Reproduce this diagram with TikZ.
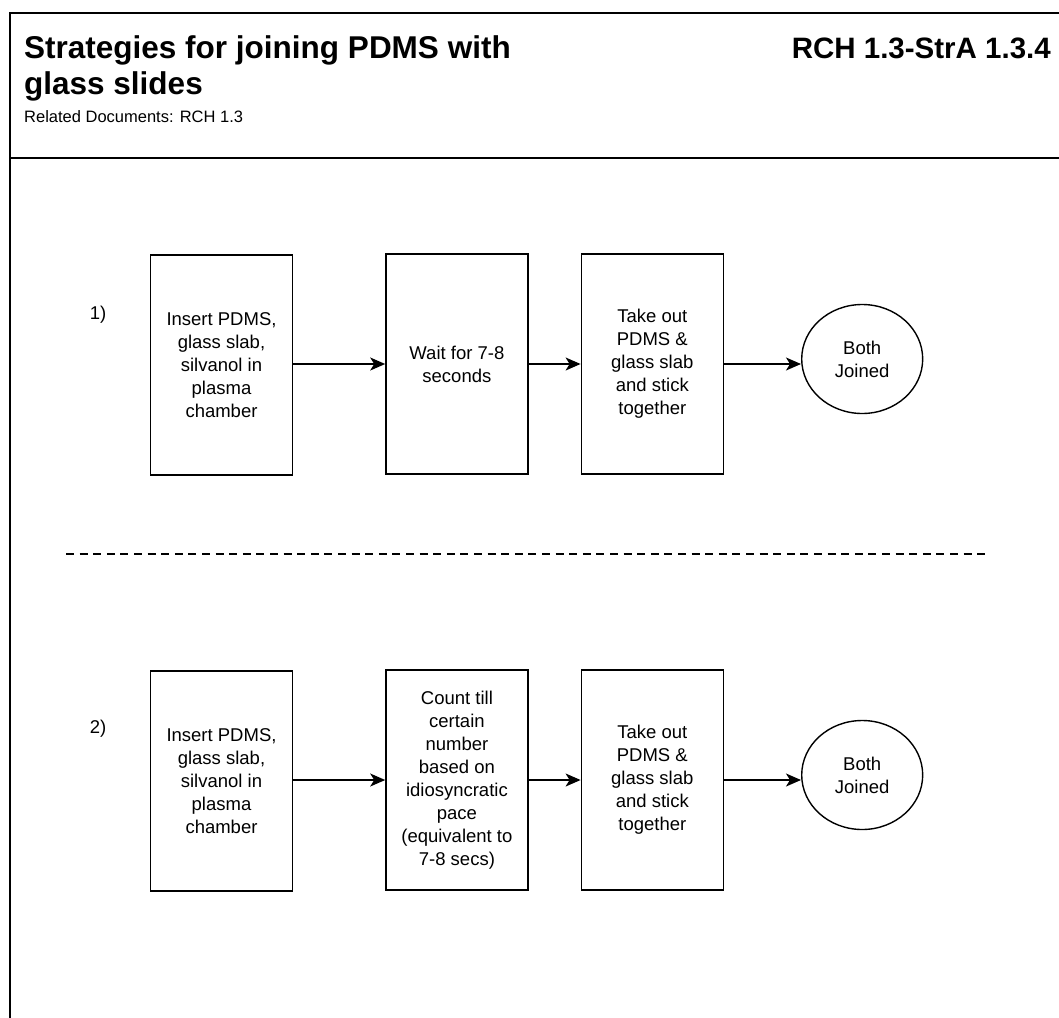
\documentclass[tikz,border=0pt]{standalone}
\usepackage{fontspec}
\setmainfont{Liberation Sans}
\usetikzlibrary{arrows.meta,positioning,shapes.geometric}
\tikzset{
  procbox/.style={rectangle, draw=black, line width=1.4pt, fill=white,
                  align=center, minimum width=142pt, minimum height=220pt,
                  inner sep=2pt, font=\fontsize{18.5}{23}\selectfont},
  joined/.style={ellipse, draw=black, line width=1.4pt, fill=white,
                 align=center, minimum width=121pt, minimum height=109pt,
                 inner sep=0pt, font=\fontsize{18.5}{23}\selectfont},
  arr/.style={-{Stealth[length=15pt,width=13pt,inset=4pt]}, line width=1.4pt},
  rowlbl/.style={font=\fontsize{18.5}{23}\selectfont, anchor=base},
  hdr/.style={anchor=base west, inner sep=0pt},
}
\begin{document}
\begin{tikzpicture}[x=1pt, y=-1pt]
  \clip (0,0) rectangle (1059,1017);
  \fill[white] (0,0) rectangle (1059,1017);
  % sheet frame and header
  \draw[line width=1.4pt] (10,1040) -- (10,13) -- (1080,13);
  \draw[line width=1.4pt] (10,158) -- (1080,158);
  \node[hdr, font=\bfseries\fontsize{31.5}{36}\selectfont] (title) at (24,58)
        {Strategies for joining PDMS with};
  \node[hdr, font=\bfseries\fontsize{31.5}{36}\selectfont] (title2) at (24,94)
        {glass slides};
  \node[hdr, font=\fontsize{16.5}{20}\selectfont] (related) at (24,122)
        {Related Documents: RCH 1.3};
  \node[anchor=base east, inner sep=0pt,
        font=\bfseries\fontsize{29.5}{36}\selectfont] (docid) at (1051,58)
        {RCH 1.3-StrA 1.3.4};
  % strategy 1
  \node[rowlbl] (lbla) at (98,319) {1)};
  \node[procbox] (inserta) at (221.5,365) {Insert PDMS,\\glass slab,\\silvanol in\\plasma\\chamber};
  \node[procbox, right=92pt of inserta, yshift=1pt] (waita) {Wait for 7-8\\seconds};
  \node[procbox, right=52pt of waita] (takea) {Take out\\PDMS \&\\glass slab\\and stick\\together};
  \node[joined, right=77pt of takea, yshift=5pt] (donea) {Both\\Joined};
  \draw[arr] (inserta.east |- takea) -- (waita.west |- takea);
  \draw[arr] (waita) -- (takea);
  \draw[arr] (takea) -- (donea.west |- takea);
  % divider
  \draw[line width=1.4pt, dash pattern=on 8pt off 5.6pt] (66,554) -- (986,554);
  % strategy 2
  \node[rowlbl] (lblb) at (98,733) {2)};
  \node[procbox] (insertb) at (221.5,781) {Insert PDMS,\\glass slab,\\silvanol in\\plasma\\chamber};
  \node[procbox, right=92pt of insertb, yshift=1pt] (countb) {Count till\\certain\\number\\based on\\idiosyncratic\\pace\\(equivalent to\\7-8 secs)};
  \node[procbox, right=52pt of countb] (takeb) {Take out\\PDMS \&\\glass slab\\and stick\\together};
  \node[joined, right=77pt of takeb, yshift=5pt] (doneb) {Both\\Joined};
  \draw[arr] (insertb.east |- takeb) -- (countb.west |- takeb);
  \draw[arr] (countb) -- (takeb);
  \draw[arr] (takeb) -- (doneb.west |- takeb);
\end{tikzpicture}
\end{document}
